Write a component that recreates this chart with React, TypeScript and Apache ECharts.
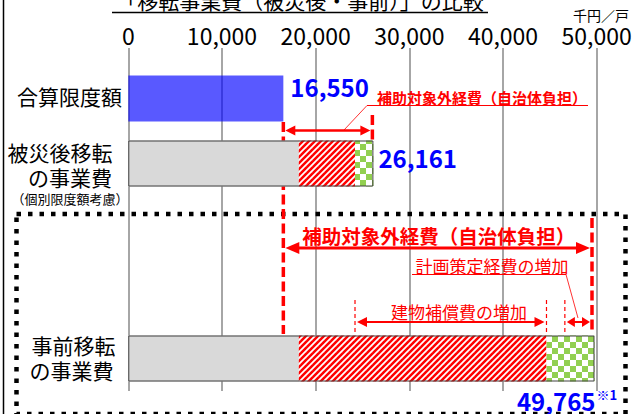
import React, { useEffect, useRef } from 'react';
import * as echarts from 'echarts';

// ---- data ----
const categories = ['合算限度額', '被災後移転の事業費', '', ' ', '事前移転の事業費'];
const limitValues: (number | null)[] = [16550, null, null, null, null];
const baseValues: (number | null)[] = [null, 18200, null, null, 18200];
const buildingValues: (number | null)[] = [null, 6000, null, null, 26440];
const planningValues: (number | null)[] = [null, 1961, null, null, 5125];
const axisTicks = [0, 10000, 20000, 30000, 40000, 50000];
const unitLabel = '千円／戸';
const titleText = '「移転事業費（被災後・事前）」の比較';
const rowLabelLines = [
  ['合算限度額'],
  ['被災後移転', 'の事業費', '（個別限度額考慮）'],
  [],
  [],
  ['事前移転', 'の事業費'],
];
const annotationTexts = {
  smallExcluded: '補助対象外経費（自治体負担）',
  bigExcluded: '補助対象外経費（自治体負担）',
  planning: '計画策定経費の増加',
  building: '建物補償費の増加',
  note: '※1',
};

const totals = categories.map((_, i) => {
  const parts = [baseValues[i], buildingValues[i], planningValues[i]];
  if (parts.every((p) => p == null)) return null;
  return parts.reduce((s: number, p) => s + (p || 0), 0);
});

const fmt = (v: number) => v.toLocaleString('en-US');

const CJK = '"Noto Sans CJK JP", "Noto Sans", sans-serif';
const RED = '#ff0000';
const BLUE = '#0000ff';

function makeHatch() {
  const s = 6;
  const c = document.createElement('canvas');
  c.width = s;
  c.height = s;
  const g = c.getContext('2d')!;
  g.fillStyle = '#ffffff';
  g.fillRect(0, 0, s, s);
  g.strokeStyle = RED;
  g.lineWidth = 2.5;
  for (const k of [-1, 0, 1]) {
    g.beginPath();
    g.moveTo(k * s - s, 2 * s);
    g.lineTo(k * s + 2 * s, -s);
    g.stroke();
  }
  return { image: c, repeat: 'repeat', imageWidth: s, imageHeight: s };
}

function makeChecker() {
  const s = 6;
  const c = document.createElement('canvas');
  c.width = 2 * s;
  c.height = 2 * s;
  const g = c.getContext('2d')!;
  g.fillStyle = '#ffffff';
  g.fillRect(0, 0, 2 * s, 2 * s);
  g.fillStyle = '#92d050';
  g.fillRect(0, 0, s, s);
  g.fillRect(s, s, s, s);
  return { image: c, repeat: 'repeat', imageWidth: 2 * s, imageHeight: 2 * s };
}

function arrow(x1: number, x2: number, y: number, lw: number, hl: number, hw: number, color: string) {
  return [
    { type: 'line', shape: { x1: x1 + hl * 0.8, y1: y, x2: x2 - hl * 0.8, y2: y }, style: { stroke: color, lineWidth: lw } },
    { type: 'polygon', shape: { points: [[x1, y], [x1 + hl, y - hw], [x1 + hl, y + hw]] }, style: { fill: color } },
    { type: 'polygon', shape: { points: [[x2, y], [x2 - hl, y - hw], [x2 - hl, y + hw]] }, style: { fill: color } },
  ];
}

function vdash(x: number, y1: number, y2: number, lw: number, dash: number[], color: string) {
  return { type: 'line', shape: { x1: x, y1, x2: x, y2 }, style: { stroke: color, lineWidth: lw, lineDash: dash } };
}

function txt(text: string, x: number, y: number, size: number, opts: any = {}) {
  return {
    type: 'text',
    x,
    y,
    style: {
      text,
      fontSize: size,
      lineHeight: size,
      fontFamily: CJK,
      fill: opts.fill || '#000',
      fontWeight: opts.bold ? 'bold' : 'normal',
      align: opts.align || 'center',
      verticalAlign: 'middle',
    },
  };
}

export default function App() {
  const ref = useRef<HTMLDivElement>(null);
  useEffect(() => {
    const el = ref.current!;
    const chart = echarts.init(el, null, { renderer: 'svg' });
    const hatch = makeHatch();
    const checker = makeChecker();
    const barW = 46;
    const common = { type: 'bar', stack: 'total', barWidth: barW, barGap: '-100%', silent: true };

    chart.setOption({
      animation: false,
      grid: { left: 128.3, right: 39.3, top: 66, bottom: 23 },
      xAxis: {
        type: 'value',
        position: 'top',
        min: axisTicks[0],
        max: axisTicks[axisTicks.length - 1],
        interval: axisTicks[1] - axisTicks[0],
        axisLine: { show: false },
        axisTick: { show: true, inside: false, length: 18, lineStyle: { color: '#a6a6a6', width: 2 } },
        splitLine: { show: true, lineStyle: { color: '#a6a6a6', width: 2 } },
        axisLabel: {
          margin: 20,
          fontSize: 23,
          fontFamily: CJK,
          color: '#000',
          formatter: (v: number) => fmt(v),
        },
      },
      yAxis: {
        type: 'category',
        inverse: true,
        data: categories,
        axisLine: { show: false },
        axisTick: { show: false },
        axisLabel: { show: false },
        splitLine: { show: false },
      },
      series: [
        {
          ...common,
          name: '合算限度額',
          data: limitValues,
          itemStyle: { color: 'rgba(0,0,255,0.65)' },
          label: {
            show: true,
            position: 'right',
            distance: 7,
            offset: [0, -12],
            formatter: (p: any) => fmt(p.value),
            fontSize: 24,
            fontWeight: 'bold',
            fontFamily: CJK,
            color: BLUE,
          },
        },
        { ...common, name: '基本', data: baseValues, itemStyle: { color: '#d9d9d9' } },
        { ...common, name: '建物補償費', data: buildingValues, itemStyle: { color: hatch } },
        { ...common, name: '計画策定経費', data: planningValues, itemStyle: { color: checker } },
        {
          type: 'bar',
          name: '合計',
          stack: 'outline',
          barWidth: barW,
          barGap: '-100%',
          silent: true,
          z: 3,
          data: totals,
          itemStyle: { color: 'rgba(0,0,0,0)', borderColor: '#404040', borderWidth: 1 },
          label: {
            show: true,
            position: 'right',
            distance: 5,
            offset: [0, -6],
            formatter: (p: any) => (p.dataIndex === 1 ? fmt(p.value) : ''),
            fontSize: 24,
            fontWeight: 'bold',
            fontFamily: CJK,
            color: BLUE,
          },
        },
      ],
    });

    const px = (v: number) => chart.convertToPixel({ xAxisIndex: 0 }, v) as number;
    const limitTotal = limitValues[0] as number;
    const xLimit = px(limitTotal);
    const x2Total = px(totals[1] as number);
    const x2Build = px((baseValues[1] as number) + (buildingValues[1] as number));
    const x3Build = px((baseValues[4] as number) + (buildingValues[4] as number));
    const x3Plan = px((baseValues[4] as number) + (buildingValues[4] as number) + (planningValues[1] as number));
    const x3Total = px(totals[4] as number);
    const xRightDash = x3Total - 2.5;

    const labelPos: [number, number, number][][] = [
      [[69.5, 96, 21]],
      [[60, 152, 21], [70, 177, 21], [70, 198, 13]],
      [],
      [],
      [[73.5, 345, 21], [71.5, 370, 21]],
    ];
    const rowLabels: any[] = [];
    rowLabelLines.forEach((lines, i) =>
      lines.forEach((t, j) => {
        const [x, y, s] = labelPos[i][j];
        rowLabels.push(txt(t, x, y, s));
      })
    );

    const elements: any[] = [
      { type: 'line', shape: { x1: 3.5, y1: 0, x2: 3.5, y2: 414 }, style: { stroke: '#000', lineWidth: 1.5 } },
      txt(titleText, 300, 0, 21),
      { type: 'line', shape: { x1: 112, y1: 12.5, x2: 488, y2: 12.5 }, style: { stroke: '#000', lineWidth: 1.5 } },
      txt(unitLabel, 601, 15, 14),
      ...rowLabels,
      {
        type: 'rect',
        shape: { x: 16.5, y: 214, width: 609, height: 200 },
        style: { fill: 'none', stroke: '#000', lineWidth: 4.5, lineDash: [4.5, 7] },
      },
      // dashed boundaries
      vdash(xLimit, 122, 334, 3.5, [10, 4.5], RED),
      vdash(x2Total - 1, 115, 141, 3.5, [10, 4.5], RED),
      vdash(xRightDash, 218, 334, 3.5, [10, 4.5], RED),
      // small excluded-cost arrow (after disaster)
      ...arrow(xLimit + 2, x2Total - 3, 130.5, 2.5, 10, 5, RED),
      txt(annotationTexts.smallExcluded, 482, 97, 15, { fill: RED, bold: true }),
      { type: 'line', shape: { x1: 367, y1: 105.5, x2: 588, y2: 105.5 }, style: { stroke: RED, lineWidth: 1.2 } },
      { type: 'line', shape: { x1: 367, y1: 105.5, x2: 344, y2: 130 }, style: { stroke: RED, lineWidth: 0.8 } },
      // big excluded-cost arrow (pre-disaster)
      txt(annotationTexts.bigExcluded, (xLimit + xRightDash) / 2 + 1, 235, 19.5, { fill: RED, bold: true }),
      ...arrow(xLimit + 2, xRightDash - 2, 248, 3, 14, 6, RED),
      // planning cost increase
      txt(annotationTexts.planning, 492, 265, 17, { fill: RED }),
      { type: 'line', shape: { x1: 412, y1: 274.5, x2: 566, y2: 274.5 }, style: { stroke: RED, lineWidth: 1 } },
      { type: 'line', shape: { x1: 566, y1: 274.5, x2: 578, y2: 318 }, style: { stroke: RED, lineWidth: 0.8 } },
      // building compensation increase
      txt(annotationTexts.building, 459, 311, 17, { fill: RED }),
      vdash(x2Build, 300, 334, 1.2, [4, 3], RED),
      vdash(x3Build, 300, 334, 1.2, [4, 3], RED),
      vdash(x3Plan, 300, 334, 1.2, [4, 3], RED),
      ...arrow(x2Build + 2, x3Build - 2, 322, 2, 10, 5, RED),
      ...arrow(x3Plan + 2, xRightDash - 2, 322, 2, 8, 5, RED),
      // pre-disaster total
      txt(fmt(totals[4] as number), x3Total + 1, 400, 24, { fill: BLUE, bold: true, align: 'right' }),
      txt(annotationTexts.note, x3Total + 2, 394, 13, { fill: BLUE, bold: true, align: 'left' }),
    ];

    chart.setOption({ graphic: { elements } });
    return () => chart.dispose();
  }, []);
  return <div ref={ref} style={{ position: 'absolute', left: 0, top: 0, width: 636, height: 414, background: '#fff' }} />;
}
